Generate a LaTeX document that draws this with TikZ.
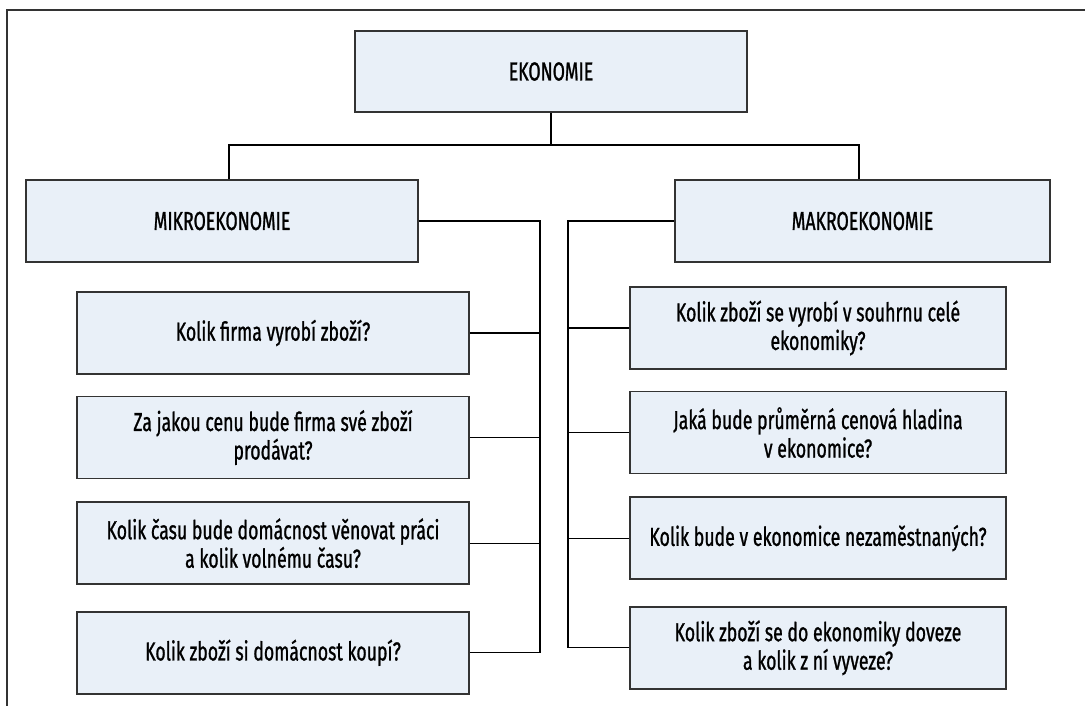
\documentclass[tikz,border=0pt]{standalone}
\usepackage{fontspec}
\setmainfont{Fira Sans}[FakeStretch=0.68,FakeBold=1]
\usetikzlibrary{positioning}
\definecolor{boxfill}{HTML}{E9F0F8}
\definecolor{boxline}{HTML}{333333}
\tikzset{
  box/.style={draw=boxline,fill=boxfill,line width=1.6pt,minimum height=82pt,
    inner sep=0pt,align=center,font=\fontsize{26}{28.5}\selectfont},
  lbox/.style={box,minimum width=392pt},
  rbox/.style={box,minimum width=376pt},
  link/.style={draw=black,line width=1.2pt}
}

\begin{document}
\begin{tikzpicture}[x=1pt,y=-1pt]
\useasboundingbox (0,0) rectangle (1085,706);
% frame
\draw[boxline,line width=1.6pt] (7,706) -- (7,10) -- (1085,10);
% top level
\node[lbox,minimum height=81pt] (eko) at (551,71.5) {EKONOMIE};
\node[lbox] (mikro) at (222,221) {MIKROEKONOMIE};
\node[box,minimum width=375pt] (makro) at (862.5,221) {MAKROEKONOMIE};
\coordinate (split) at (551,145);
\draw[link] (eko.south) -- (split);
\draw[link] ([xshift=7pt]mikro.north) |- (split) -| ([xshift=-3.5pt]makro.north);
% mikro questions
\node[lbox] (l1) at (273,333) {Kolik firma vyrobí zboží?};
\node[lbox,below=21pt of l1] (l2) {Za jakou cenu bude firma své zboží\\prodávat?};
\node[lbox,below=22pt of l2] (l3) {Kolik času bude domácnost věnovat práci\\a kolik volnému času?};
\node[lbox,below=26pt of l3] (l4) {Kolik zboží si domácnost koupí?};
% makro questions
\node[rbox] (r1) at (818,328) {Kolik zboží se vyrobí v souhrnu celé\\ekonomiky?};
\node[rbox,below=21pt of r1] (r2) {Jaká bude průměrná cenová hladina\\v ekonomice?};
\node[rbox,below=22pt of r2] (r3) {Kolik bude v ekonomice nezaměstnaných?};
\node[rbox,below=26pt of r3] (r4) {Kolik zboží se do ekonomiky doveze\\a kolik z ní vyveze?};
% buses
\coordinate (lbus) at (540,221);
\coordinate (rbus) at (568,221);
\draw[link] (mikro.east) -- (lbus) -- (lbus |- l4.east);
\draw[link] (makro.west) -- (rbus) -- (rbus |- r4.west);
\foreach \q in {l1,l2,l3,l4}
  \draw[link] (\q.east) -- (\q.east -| lbus);
\foreach \q in {r1,r2,r3,r4}
  \draw[link] (\q.west) -- (\q.west -| rbus);
\end{tikzpicture}
\end{document}
